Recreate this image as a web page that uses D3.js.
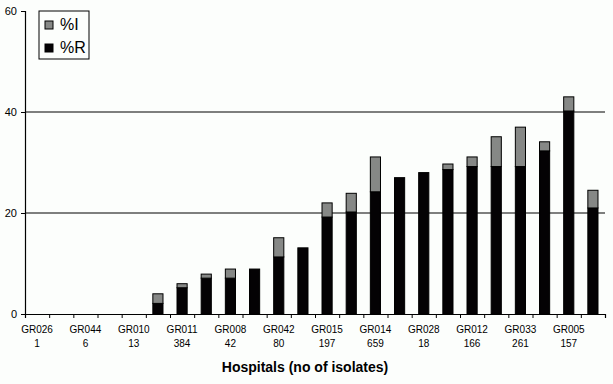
<!DOCTYPE html>
<html>
<head>
<meta charset="utf-8">
<script src="https://cdn.jsdelivr.net/npm/d3@7"></script>
<style>
    body { margin: 0; background: #fcfefc; }
    svg { display: block; font-family: "Liberation Sans", Arial, sans-serif; }
</style>
</head>
<body>
<div id="chart"></div>
<script>
// hospitals, only every other one is labelled in the original
const hospitals = ['GR026', '', 'GR044', '', 'GR010', '', 'GR011', '', 'GR008', '', 'GR042', '',
    'GR015', '', 'GR014', '', 'GR028', '', 'GR012', '', 'GR033', '', 'GR005', ''];
const isolates = ['1', '', '6', '', '13', '', '384', '', '42', '', '80', '',
    '197', '', '659', '', '18', '', '166', '', '261', '', '157', ''];
const pctR = [0, 0, 0, 0, 0, 2.1, 5.2, 7.1, 7.1, 8.9, 11.3, 13.1,
    19.2, 20.2, 24.2, 27.0, 28.0, 28.6, 29.2, 29.2, 29.2, 32.3, 40.2, 21.0];
const pctI = [0, 0, 0, 0, 0, 1.9, 0.8, 0.8, 1.8, 0, 3.8, 0,
    2.8, 3.7, 6.9, 0, 0, 1.1, 1.9, 5.9, 7.8, 1.8, 2.8, 3.5];
const yTicks = [0, 20, 40, 60];
const seriesNames = ['%I', '%R'];

const width = 613, height = 384;
const margin = { top: 11, right: 8, bottom: 70, left: 25 };
const innerW = width - margin.left - margin.right;
const innerH = height - margin.top - margin.bottom;

const rows = hospitals.map((h, i) => ({ idx: i, R: pctR[i], I: pctI[i] }));
const stack = d3.stack().keys(['R', 'I'])(rows);
const colors = { R: '#040204', I: '#868886' };

const svg = d3.select('#chart').append('svg')
    .attr('width', width)
    .attr('height', height);
const main = svg.append('g')
    .attr('transform', `translate(${margin.left},${margin.top})`);

const x = d3.scaleBand()
    .domain(d3.range(hospitals.length))
    .range([0, innerW])
    .paddingInner(0.58)
    .paddingOuter(0.29);
const xEdge = d3.scaleLinear()
    .domain([0, hospitals.length])
    .range([0, innerW]);
const y = d3.scaleLinear()
    .domain([0, 60])
    .range([innerH, 0]);

// gridlines
main.append('g')
    .selectAll('line')
    .data(yTicks.filter(d => d > 0 && d < 60))
    .join('line')
    .attr('x1', 0)
    .attr('x2', innerW)
    .attr('y1', d => y(d))
    .attr('y2', d => y(d))
    .attr('stroke', '#000')
    .attr('stroke-width', 1.2);

// bars
main.append('g')
    .selectAll('g')
    .data(stack)
    .join('g')
    .attr('fill', d => colors[d.key])
    .selectAll('rect')
    .data(d => d.filter(s => s[1] - s[0] > 0))
    .join('rect')
    .attr('x', d => x(d.data.idx))
    .attr('width', x.bandwidth())
    .attr('y', d => y(d[1]))
    .attr('height', d => y(d[0]) - y(d[1]))
    .attr('stroke', '#000')
    .attr('stroke-width', 1);

// axes
const yAxisG = main.append('g')
    .call(d3.axisLeft(y).tickValues(yTicks).tickSize(4).tickPadding(4));
const xAxisG = main.append('g')
    .attr('transform', `translate(0,${innerH})`)
    .call(d3.axisBottom(xEdge).ticks(hospitals.length).tickSize(4).tickFormat(''));

[yAxisG, xAxisG].forEach(g => {
    g.select('.domain').attr('stroke', '#000').attr('stroke-width', 1.2);
    g.selectAll('.tick line').attr('stroke', '#000');
});
yAxisG.selectAll('text')
    .attr('font-size', 11)
    .attr('font-family', '"Liberation Sans", Arial, sans-serif')
    .attr('fill', '#000');

// category labels
const labels = main.append('g')
    .attr('font-size', 10)
    .attr('text-anchor', 'middle')
    .selectAll('g')
    .data(hospitals.map((h, i) => ({ h, n: isolates[i], i })).filter(d => d.h))
    .join('g')
    .attr('transform', d => `translate(${x(d.i) + x.bandwidth() / 2},${innerH})`);
labels.append('text').attr('y', 19).text(d => d.h);
labels.append('text').attr('y', 33).text(d => d.n);

svg.append('text')
    .attr('x', 305)
    .attr('y', 372)
    .attr('text-anchor', 'middle')
    .attr('font-size', 14)
    .attr('font-weight', 'bold')
    .text('Hospitals (no of isolates)');

// legend
const legend = svg.append('g').attr('transform', 'translate(39,11)');
legend.append('rect')
    .attr('width', 50)
    .attr('height', 48)
    .attr('fill', 'none')
    .attr('stroke', '#000');
const item = legend.selectAll('g')
    .data(seriesNames)
    .join('g')
    .attr('transform', (d, i) => `translate(6,${10 + i * 23})`);
item.append('rect')
    .attr('width', 8)
    .attr('height', 8)
    .attr('fill', (d, i) => i === 0 ? colors.I : colors.R)
    .attr('stroke', '#000');
item.append('text')
    .attr('x', 15)
    .attr('y', 8.5)
    .attr('font-size', 16)
    .text(d => d);
</script>
</body>
</html>
